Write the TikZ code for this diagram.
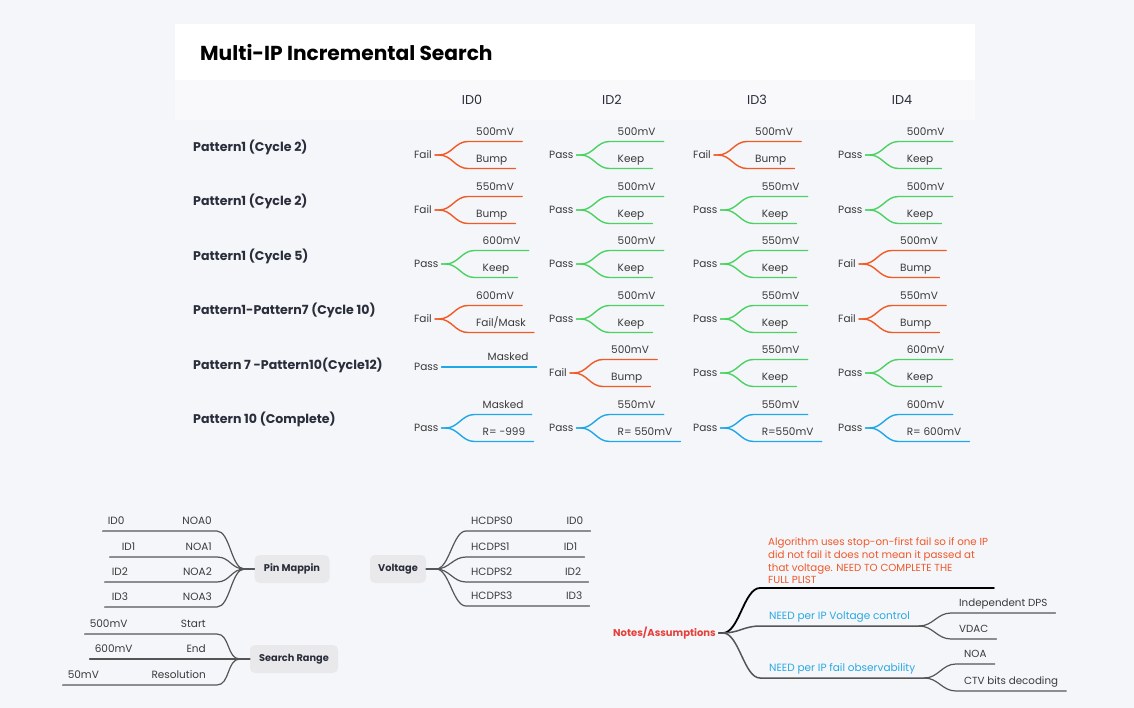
\documentclass[tikz,border=0pt]{standalone}
\usepackage{fontspec}
\setmainfont{Poppins}
\usetikzlibrary{positioning,calc}

\definecolor{bgcol}{HTML}{F5F6FA}
\definecolor{hdrcol}{HTML}{F9F9FB}
\definecolor{txtcol}{HTML}{3A3A3A}
\definecolor{darkcol}{HTML}{2A2E3B}
\definecolor{failcol}{HTML}{F15A24}
\definecolor{passcol}{HTML}{4CD263}
\definecolor{donecol}{HTML}{1EA8E6}
\definecolor{topiccol}{HTML}{E9E9EC}
\definecolor{linecol}{HTML}{555555}
\definecolor{notecol}{HTML}{E5403A}
\definecolor{algocol}{HTML}{F0582A}
\definecolor{needcol}{HTML}{29A9E1}

\tikzset{
  rootlbl/.style={anchor=west,inner xsep=3pt,inner ysep=0pt,text=txtcol,font=\fontsize{10.5}{12}\selectfont},
  leaf/.style={anchor=south west,inner xsep=8pt,inner ysep=4pt,text height=8pt,text depth=2pt,text=txtcol,font=\fontsize{10.5}{12}\selectfont},
  lleaf/.style={leaf,anchor=south east,inner xsep=5pt,align=left},
  rleaf/.style={leaf,inner xsep=5pt,align=left},
  branch/.style={line width=1.4pt,line cap=round},
  fail/.style={branch,draw=failcol},
  pass/.style={branch,draw=passcol},
  done/.style={branch,draw=donecol},
  grey/.style={branch,draw=linecol,line width=1.2pt},
  topic/.style={rounded corners=5pt,fill=topiccol,text=darkcol,minimum height=28pt,font=\fontsize{9.8}{11}\selectfont\bfseries},
  patlbl/.style={anchor=west,text=darkcol,inner sep=0pt,font=\fontsize{12.6}{14}\selectfont\bfseries},
  hdr/.style={text=darkcol,font=\fontsize{12.8}{14}\selectfont}
}

% one result cell: name, x, y, verdict, upper, lower, colour
\newcommand{\ipcell}[7]{%
  \node[rootlbl] (#1) at (#2-3,#3) {#4};
  \node[leaf] (#1a) at ([shift={(33,-13.5)}]#1.east) {#5};
  \node[leaf] (#1b) at ([shift={(33,13.5)}]#1.east) {#6};
  \draw[#7] (#1.east) -- ++(4,0) .. controls +(13,0) and +(-13,0) .. (#1a.south west) -- (#1a.south east);
  \draw[#7] (#1.east) -- ++(4,0) .. controls +(13,0) and +(-13,0) .. (#1b.south west) -- (#1b.south east);
}

\begin{document}
\begin{tikzpicture}[x=1pt,y=-1pt]
\fill[bgcol] (0,0) rectangle (1134,708);
\fill[white] (175,24) rectangle (975,80);
\fill[hdrcol] (175,80) rectangle (975,120);

\node[anchor=west,inner sep=0pt,text=black,font=\fontsize{20.2}{22}\selectfont\bfseries] (title) at (200,52) {Multi-IP Incremental Search};

\node[hdr] (id0) at (472,100) {ID0};
\node[hdr] (id2) at (612,100) {ID2};
\node[hdr] (id3) at (757,100) {ID3};
\node[hdr] (id4) at (902,100) {ID4};

\node[patlbl] (pat1) at (193,147) {Pattern1 (Cycle 2)};
\node[patlbl] (pat2) at (193,201) {Pattern1 (Cycle 2)};
\node[patlbl] (pat3) at (193,256) {Pattern1 (Cycle 5)};
\node[patlbl] (pat4) at (193,310) {Pattern1-Pattern7 (Cycle 10)};
\node[patlbl] (pat5) at (193,365) {Pattern 7 -Pattern10(Cycle12)};
\node[patlbl] (pat6) at (193,419) {Pattern 10 (Complete)};

% results per IP
\ipcell{c11}{414}{155}{Fail}{500mV}{Bump}{fail}
\ipcell{c12}{549}{155}{Pass}{500mV}{Keep}{pass}
\ipcell{c13}{693}{155}{Fail}{500mV}{Bump}{fail}
\ipcell{c14}{838}{155}{Pass}{500mV}{Keep}{pass}

\ipcell{c21}{414}{210}{Fail}{550mV}{Bump}{fail}
\ipcell{c22}{549}{210}{Pass}{500mV}{Keep}{pass}
\ipcell{c23}{693}{210}{Pass}{550mV}{Keep}{pass}
\ipcell{c24}{838}{210}{Pass}{500mV}{Keep}{pass}

\ipcell{c31}{414}{264}{Pass}{600mV}{Keep}{pass}
\ipcell{c32}{549}{264}{Pass}{500mV}{Keep}{pass}
\ipcell{c33}{693}{264}{Pass}{550mV}{Keep}{pass}
\ipcell{c34}{838}{264}{Fail}{500mV}{Bump}{fail}

\ipcell{c41}{414}{319}{Fail}{600mV}{Fail/Mask}{fail}
\ipcell{c42}{549}{319}{Pass}{500mV}{Keep}{pass}
\ipcell{c43}{693}{319}{Pass}{550mV}{Keep}{pass}
\ipcell{c44}{838}{319}{Fail}{550mV}{Bump}{fail}

\node[rootlbl] (c51) at (411,367) {Pass};
\node[leaf] (c51a) at ([xshift=38]c51.east) {Masked};
\draw[done] (c51.east) -- (c51a.south west) -- (c51a.south east);
\ipcell{c52}{549}{373}{Fail}{500mV}{Bump}{fail}
\ipcell{c53}{693}{373}{Pass}{550mV}{Keep}{pass}
\ipcell{c54}{838}{373}{Pass}{600mV}{Keep}{pass}

\ipcell{c61}{414}{428}{Pass}{Masked}{R= -999}{done}
\ipcell{c62}{549}{428}{Pass}{550mV}{R= 550mV}{done}
\ipcell{c63}{693}{428}{Pass}{550mV}{R=550mV}{done}
\ipcell{c64}{838}{428}{Pass}{600mV}{R= 600mV}{done}

% pin mapping
\node[topic,minimum width=75pt] (pin) at (292,569) {Pin Mappin};
\node[lleaf,text width=104pt] (pin0) at (217,531) {ID0\hfill NOA0};
\node[lleaf,text width=97pt] (pin1) at (217,557) {\hspace*{7pt}ID1\hfill NOA1};
\node[lleaf,text width=102pt] (pin2) at (217,582) {\hspace*{2pt}ID2\hfill NOA2};
\node[lleaf,text width=102pt] (pin3) at (217,607) {\hspace*{2pt}ID3\hfill NOA3};
\foreach \k in {pin0,pin1,pin2,pin3}
  \draw[grey] (pin.west) -- ++(-10,0) .. controls +(-13,0) and +(13,0) .. (\k.south east) -- (\k.south west);

% search range
\node[topic,minimum width=88pt] (srch) at (294,659) {Search Range};
\node[lleaf,text width=122pt] (sr0) at (217,634) {500mV\hfill Start\hspace*{6pt}};
\node[lleaf,text width=117pt] (sr1) at (217,659) {600mV\hfill End\hspace*{6pt}};
\node[lleaf,text width=144pt] (sr2) at (217,685) {50mV\hfill Resolution\hspace*{6pt}};
\foreach \k in {sr0,sr1,sr2}
  \draw[grey] (srch.west) -- ++(-10,0) .. controls +(-13,0) and +(13,0) .. (\k.south east) -- (\k.south west);

% voltage
\node[topic,minimum width=56pt] (volt) at (398,569) {Voltage};
\node[rleaf,text width=114pt] (v0) at (466,531) {HCDPS0\hfill ID0\hspace*{2pt}};
\node[rleaf,text width=108pt] (v1) at (466,557) {HCDPS1\hfill ID1\hspace*{2pt}};
\node[rleaf,text width=112pt] (v2) at (466,582) {HCDPS2\hfill ID2\hspace*{2pt}};
\node[rleaf,text width=113pt] (v3) at (466,606) {HCDPS3\hfill ID3\hspace*{2pt}};
\foreach \k in {v0,v1,v2,v3}
  \draw[grey] (volt.east) -- ++(10,0) .. controls +(13,0) and +(-13,0) .. (\k.south west) -- (\k.south east);

% notes
\node[anchor=west,inner xsep=3pt,text=notecol,font=\fontsize{10}{12}\selectfont\bfseries] (notes) at (610,633) {Notes/Assumptions};
\node[leaf,inner xsep=8pt,align=left,text=algocol,text height=,text depth=,font=\fontsize{10.25}{12.7}\selectfont] (n1) at (760,588)
  {Algorithm uses stop-on-first fail so if one IP\\did not fail it does not mean it passed at\\that voltage. NEED TO COMPLETE THE\\FULL PLIST};
\coordinate (n1end) at (994,588);
\node[leaf,inner xsep=9pt,text=needcol,font=\fontsize{10.5}{12}\selectfont] (n2) at (760,626) {NEED per IP Voltage control};
\node[leaf,inner xsep=9pt,text=needcol,font=\fontsize{10.5}{12}\selectfont] (n3) at (760,678) {NEED per IP fail observability};
\draw[branch,draw=black,line width=1.8pt] (notes.east) -- ++(4,0) .. controls +(16,0) and +(-16,0) .. (n1.south west) -- (n1end);
\draw[grey,line width=1.5pt] (notes.east) -- ++(4,0) .. controls +(16,0) and +(-16,0) .. (n2.south west) -- (n2.south east);
\draw[grey,line width=1.5pt] (notes.east) -- ++(4,0) .. controls +(16,0) and +(-16,0) .. (n3.south west) -- (n3.south east);

\node[leaf,font=\fontsize{10.3}{12}\selectfont] (dps) at (951,613) {Independent DPS};
\node[leaf,font=\fontsize{10.3}{12}\selectfont] (vdac) at (951,639) {VDAC};
\node[leaf,font=\fontsize{10.3}{12}\selectfont] (noa) at (956,664) {NOA};
\node[leaf,font=\fontsize{10.3}{12}\selectfont] (ctv) at (956,691) {CTV bits decoding};
\foreach \k in {dps,vdac}
  \draw[grey] (n2.south east) .. controls +(14,0) and +(-14,0) .. (\k.south west) -- (\k.south east);
\foreach \k in {noa,ctv}
  \draw[grey] (n3.south east) .. controls +(14,0) and +(-14,0) .. (\k.south west) -- (\k.south east);
\end{tikzpicture}
\end{document}
